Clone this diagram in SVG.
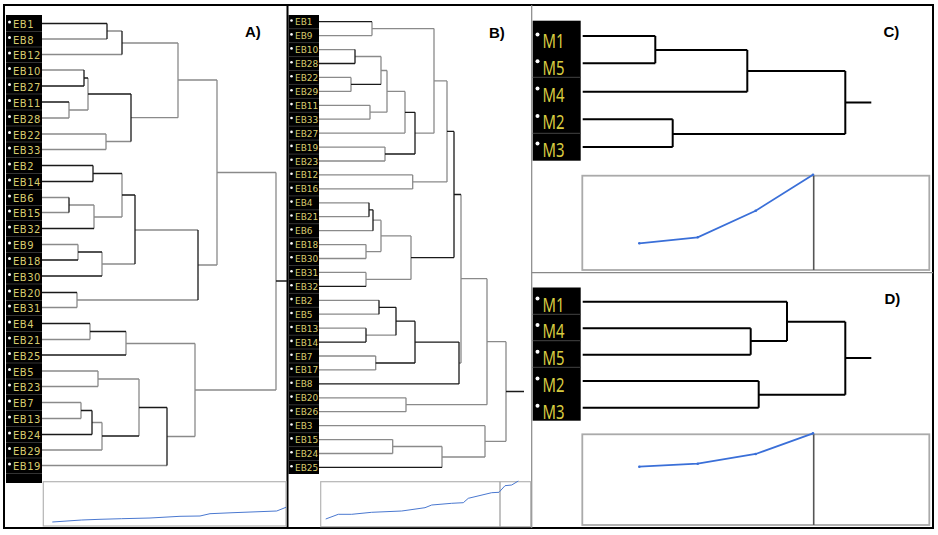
<svg xmlns="http://www.w3.org/2000/svg" width="938" height="535" viewBox="0 0 938 535">
<style>
.k{fill:none;stroke:#1a1a1a;stroke-width:1.3}
.g{fill:none;stroke:#8a8a8a;stroke-width:1.3}
.m{fill:none;stroke:#000;stroke-width:2}
.strip{fill:#000}
.sep{fill:none;stroke:#333;stroke-width:1}
.la{font-family:"DejaVu Sans",sans-serif;font-size:10px;letter-spacing:0.5px;fill:#d6ca6e}
.lb{font-family:"DejaVu Sans",sans-serif;font-size:9px;fill:#d6ca6e}
.lm{font-family:"Noto Sans",sans-serif;font-size:20px;fill:#d8cc40}
.dot{fill:#fff}
.ttl{font-family:"Liberation Sans",Arial,sans-serif;font-size:15px;font-weight:bold;fill:#000}
.box{fill:#fff;stroke:#b4b4b4;stroke-width:1.2}
.box2{fill:#fff;stroke:#aaa;stroke-width:1.8}
.curve{fill:none;stroke:#4a78d0;stroke-width:1}
.curve2{fill:none;stroke:#3a6fd8;stroke-width:1.8}
</style>
<rect x="0" y="0" width="938" height="535" fill="#fff"/>
<!-- frame -->
<g id="frame">
<rect x="4" y="5" width="929" height="523" fill="none" stroke="#000" stroke-width="2"/>
<line x1="287.5" y1="5" x2="287.5" y2="528" stroke="#000" stroke-width="2"/>
<line x1="531.7" y1="5" x2="531.7" y2="528" stroke="#888" stroke-width="1.2"/>
<line x1="531.7" y1="272.7" x2="933" y2="272.7" stroke="#888" stroke-width="1.2"/>
</g>
<!-- Panel A -->
<g id="panelA">
<rect class="strip" x="6" y="15" width="36" height="468"/>
<path class="sep" d="M6 31.5H42M6 47H42M6 62.5H42M6 78H42M6 94H42M6 110H42M6 126H42M6 142H42M6 157.5H42M6 173.5H42M6 189.5H42M6 205.5H42M6 220.5H42M6 236.5H42M6 252.5H42M6 268H42M6 284H42M6 300.5H42M6 315.5H42M6 331.5H42M6 347.5H42M6 363H42M6 379H42M6 394.5H42M6 410.5H42M6 426.5H42M6 442.5H42M6 458H42M6 473.5H42"/>
<g id="a-EB1"><circle class="dot" cx="9.5" cy="22" r="1.5"/><text class="la" x="13" y="28">EB1</text></g>
<g id="a-EB8"><circle class="dot" cx="9.5" cy="37.5" r="1.5"/><text class="la" x="13" y="43.5">EB8</text></g>
<g id="a-EB12"><circle class="dot" cx="9.5" cy="53" r="1.5"/><text class="la" x="13" y="59">EB12</text></g>
<g id="a-EB10"><circle class="dot" cx="9.5" cy="68.5" r="1.5"/><text class="la" x="13" y="74.5">EB10</text></g>
<g id="a-EB27"><circle class="dot" cx="9.5" cy="84.5" r="1.5"/><text class="la" x="13" y="90.5">EB27</text></g>
<g id="a-EB11"><circle class="dot" cx="9.5" cy="100.5" r="1.5"/><text class="la" x="13" y="106.5">EB11</text></g>
<g id="a-EB28"><circle class="dot" cx="9.5" cy="116.5" r="1.5"/><text class="la" x="13" y="122.5">EB28</text></g>
<g id="a-EB22"><circle class="dot" cx="9.5" cy="132.5" r="1.5"/><text class="la" x="13" y="138.5">EB22</text></g>
<g id="a-EB33"><circle class="dot" cx="9.5" cy="148" r="1.5"/><text class="la" x="13" y="154">EB33</text></g>
<g id="a-EB2"><circle class="dot" cx="9.5" cy="164" r="1.5"/><text class="la" x="13" y="170">EB2</text></g>
<g id="a-EB14"><circle class="dot" cx="9.5" cy="180" r="1.5"/><text class="la" x="13" y="186">EB14</text></g>
<g id="a-EB6"><circle class="dot" cx="9.5" cy="196" r="1.5"/><text class="la" x="13" y="202">EB6</text></g>
<g id="a-EB15"><circle class="dot" cx="9.5" cy="211" r="1.5"/><text class="la" x="13" y="217">EB15</text></g>
<g id="a-EB32"><circle class="dot" cx="9.5" cy="227" r="1.5"/><text class="la" x="13" y="233">EB32</text></g>
<g id="a-EB9"><circle class="dot" cx="9.5" cy="243" r="1.5"/><text class="la" x="13" y="249">EB9</text></g>
<g id="a-EB18"><circle class="dot" cx="9.5" cy="258.5" r="1.5"/><text class="la" x="13" y="264.5">EB18</text></g>
<g id="a-EB30"><circle class="dot" cx="9.5" cy="274.5" r="1.5"/><text class="la" x="13" y="280.5">EB30</text></g>
<g id="a-EB20"><circle class="dot" cx="9.5" cy="291" r="1.5"/><text class="la" x="13" y="297">EB20</text></g>
<g id="a-EB31"><circle class="dot" cx="9.5" cy="306" r="1.5"/><text class="la" x="13" y="312">EB31</text></g>
<g id="a-EB4"><circle class="dot" cx="9.5" cy="322" r="1.5"/><text class="la" x="13" y="328">EB4</text></g>
<g id="a-EB21"><circle class="dot" cx="9.5" cy="338" r="1.5"/><text class="la" x="13" y="344">EB21</text></g>
<g id="a-EB25"><circle class="dot" cx="9.5" cy="353.5" r="1.5"/><text class="la" x="13" y="359.5">EB25</text></g>
<g id="a-EB5"><circle class="dot" cx="9.5" cy="369.5" r="1.5"/><text class="la" x="13" y="375.5">EB5</text></g>
<g id="a-EB23"><circle class="dot" cx="9.5" cy="385" r="1.5"/><text class="la" x="13" y="391">EB23</text></g>
<g id="a-EB7"><circle class="dot" cx="9.5" cy="401" r="1.5"/><text class="la" x="13" y="407">EB7</text></g>
<g id="a-EB13"><circle class="dot" cx="9.5" cy="417" r="1.5"/><text class="la" x="13" y="423">EB13</text></g>
<g id="a-EB24"><circle class="dot" cx="9.5" cy="433" r="1.5"/><text class="la" x="13" y="439">EB24</text></g>
<g id="a-EB29"><circle class="dot" cx="9.5" cy="448.5" r="1.5"/><text class="la" x="13" y="454.5">EB29</text></g>
<g id="a-EB19"><circle class="dot" cx="9.5" cy="464" r="1.5"/><text class="la" x="13" y="470">EB19</text></g>
<text class="ttl" x="245" y="37">A)</text>
<g id="a-chart">
<rect class="box" x="43.3" y="481.7" width="242.7" height="44.3"/>
<polyline class="curve" points="52.3,522 81.7,520 100,519.3 121.7,518.7 150,518 180,516.3 200,516 210,513.7 233,512.7 276.7,511 286,507.3"/>
</g>
</g>
<g id="connectors-A">
<path class="g" d="M42 39H107M107 31H122M42 54.5H122M122 43H178M42 70H84M69 102V118M42 118H69M69 110H88M88 78V110M42 134H106M42 149.5H106M106 134V149.5M106 141.5H131M131 117.7H178M178 43V117.7M178 80H217M42 197.5H69M42 212.5H69M69 205H94M94 205V228.5M94 217H122M122 173.5V217M42 244.5H78M78 244.5V260M102 252V276M102 264H135M135 230H198M42 307.5H77M77 292.5V307.5M77 300H198M198 265H217M217 80V265M217 172.5H276M42 339.5H90M90 323.5V339.5M126 331.5V355M126 343.5H195M42 371H98M42 386.5H98M98 371V386.5M98 379H139M42 402.5H81M42 418.5H81M81 402.5V418.5M92 422.5H102M42 450H102M102 422.5V450M139 379V436M42 465.5H167M167 436.5H195M195 343.5V436.5M195 390H276M276 172.5V390"/>
<path class="k" d="M42 23.5H107M107 23.5V39M122 31V54.5M42 86H84M84 70V86M84 78H88M42 102H69M88 94H131M131 94V141.5M42 165.5H93M42 181.5H93M93 165.5V181.5M93 173.5H122M69 197.5V212.5M42 228.5H94M122 195H135M42 260H78M78 252H102M42 276H102M135 195V264M42 292.5H77M198 230V300M42 323.5H90M90 331.5H126M42 355H126M81 410.5H92M42 434.5H92M92 410.5V434.5M102 436H139M139 407.5H167M167 407.5V465.5M276 281H287"/>
</g>
<!-- Panel B -->
<g id="panelB">
<rect class="strip" x="288.5" y="15" width="30.5" height="459"/>
<path class="sep" d="M288.5 28.7H319M288.5 42.6H319M288.5 56.6H319M288.5 70.5H319M288.5 84.4H319M288.5 98.4H319M288.5 112.3H319M288.5 126.2H319M288.5 140.1H319M288.5 154.1H319M288.5 168H319M288.5 181.9H319M288.5 195.9H319M288.5 209.8H319M288.5 223.7H319M288.5 237.7H319M288.5 251.6H319M288.5 265.5H319M288.5 279.4H319M288.5 293.4H319M288.5 307.3H319M288.5 321.2H319M288.5 335.2H319M288.5 349H319M288.5 363H319M288.5 376.9H319M288.5 390.9H319M288.5 404.8H319M288.5 418.7H319M288.5 432.7H319M288.5 446.6H319M288.5 460.5H319"/>
<g id="b-EB1"><circle class="dot" cx="291.5" cy="20.5" r="1.3"/><text class="lb" x="295" y="25.2">EB1</text></g>
<g id="b-EB9"><circle class="dot" cx="291.5" cy="34.4" r="1.3"/><text class="lb" x="295" y="39.1">EB9</text></g>
<g id="b-EB10"><circle class="dot" cx="291.5" cy="48.4" r="1.3"/><text class="lb" x="295" y="53.1">EB10</text></g>
<g id="b-EB28"><circle class="dot" cx="291.5" cy="62.3" r="1.3"/><text class="lb" x="295" y="67">EB28</text></g>
<g id="b-EB22"><circle class="dot" cx="291.5" cy="76.2" r="1.3"/><text class="lb" x="295" y="80.9">EB22</text></g>
<g id="b-EB29"><circle class="dot" cx="291.5" cy="90.2" r="1.3"/><text class="lb" x="295" y="94.9">EB29</text></g>
<g id="b-EB11"><circle class="dot" cx="291.5" cy="104.1" r="1.3"/><text class="lb" x="295" y="108.8">EB11</text></g>
<g id="b-EB33"><circle class="dot" cx="291.5" cy="118" r="1.3"/><text class="lb" x="295" y="122.7">EB33</text></g>
<g id="b-EB27"><circle class="dot" cx="291.5" cy="131.9" r="1.3"/><text class="lb" x="295" y="136.6">EB27</text></g>
<g id="b-EB19"><circle class="dot" cx="291.5" cy="145.9" r="1.3"/><text class="lb" x="295" y="150.6">EB19</text></g>
<g id="b-EB23"><circle class="dot" cx="291.5" cy="159.8" r="1.3"/><text class="lb" x="295" y="164.5">EB23</text></g>
<g id="b-EB12"><circle class="dot" cx="291.5" cy="173.7" r="1.3"/><text class="lb" x="295" y="178.4">EB12</text></g>
<g id="b-EB16"><circle class="dot" cx="291.5" cy="187.7" r="1.3"/><text class="lb" x="295" y="192.4">EB16</text></g>
<g id="b-EB4"><circle class="dot" cx="291.5" cy="201.6" r="1.3"/><text class="lb" x="295" y="206.3">EB4</text></g>
<g id="b-EB21"><circle class="dot" cx="291.5" cy="215.5" r="1.3"/><text class="lb" x="295" y="220.2">EB21</text></g>
<g id="b-EB6"><circle class="dot" cx="291.5" cy="229.5" r="1.3"/><text class="lb" x="295" y="234.2">EB6</text></g>
<g id="b-EB18"><circle class="dot" cx="291.5" cy="243.4" r="1.3"/><text class="lb" x="295" y="248.1">EB18</text></g>
<g id="b-EB30"><circle class="dot" cx="291.5" cy="257.3" r="1.3"/><text class="lb" x="295" y="262">EB30</text></g>
<g id="b-EB31"><circle class="dot" cx="291.5" cy="271.2" r="1.3"/><text class="lb" x="295" y="275.9">EB31</text></g>
<g id="b-EB32"><circle class="dot" cx="291.5" cy="285.2" r="1.3"/><text class="lb" x="295" y="289.9">EB32</text></g>
<g id="b-EB2"><circle class="dot" cx="291.5" cy="299.1" r="1.3"/><text class="lb" x="295" y="303.8">EB2</text></g>
<g id="b-EB5"><circle class="dot" cx="291.5" cy="313" r="1.3"/><text class="lb" x="295" y="317.7">EB5</text></g>
<g id="b-EB13"><circle class="dot" cx="291.5" cy="327" r="1.3"/><text class="lb" x="295" y="331.7">EB13</text></g>
<g id="b-EB14"><circle class="dot" cx="291.5" cy="340.9" r="1.3"/><text class="lb" x="295" y="345.6">EB14</text></g>
<g id="b-EB7"><circle class="dot" cx="291.5" cy="354.8" r="1.3"/><text class="lb" x="295" y="359.5">EB7</text></g>
<g id="b-EB17"><circle class="dot" cx="291.5" cy="368.7" r="1.3"/><text class="lb" x="295" y="373.4">EB17</text></g>
<g id="b-EB8"><circle class="dot" cx="291.5" cy="382.7" r="1.3"/><text class="lb" x="295" y="387.4">EB8</text></g>
<g id="b-EB20"><circle class="dot" cx="291.5" cy="396.6" r="1.3"/><text class="lb" x="295" y="401.3">EB20</text></g>
<g id="b-EB26"><circle class="dot" cx="291.5" cy="410.5" r="1.3"/><text class="lb" x="295" y="415.2">EB26</text></g>
<g id="b-EB3"><circle class="dot" cx="291.5" cy="424.5" r="1.3"/><text class="lb" x="295" y="429.2">EB3</text></g>
<g id="b-EB15"><circle class="dot" cx="291.5" cy="438.4" r="1.3"/><text class="lb" x="295" y="443.1">EB15</text></g>
<g id="b-EB24"><circle class="dot" cx="291.5" cy="452.3" r="1.3"/><text class="lb" x="295" y="457">EB24</text></g>
<g id="b-EB25"><circle class="dot" cx="291.5" cy="466.2" r="1.3"/><text class="lb" x="295" y="470.9">EB25</text></g>
<text class="ttl" x="489" y="37.5">B)</text>
<g id="b-chart">
<rect class="box" x="320.7" y="481.7" width="210" height="45"/>
<line x1="500" y1="481.7" x2="500" y2="526.7" stroke="#999" stroke-width="1.2"/>
<polyline class="curve" points="325.7,519 338.3,514.3 351.7,514.3 371.7,512.3 401.7,511 425,507.7 431.7,505 451.7,503.3 463.3,502.7 468.3,498.3 491.7,492.7 499,492.3 505,485.7 511.7,485 518.3,481"/>
</g>
</g>
<g id="connectors-B">
<path class="g" d="M319 35.6H372M372 21.7V35.6M372 28.6H434M319 49.6H355M355 56.5H381M319 77.4H351M319 91.4H351M351 77.4V91.4M381 56.5V84.4M381 70.5H387M319 105.3H370M319 119.2H370M370 105.3V119.2M370 112.2H387M387 70.5V112.2M387 91.4H405M319 133.1H405M405 91.4V133.1M319 147.1H385M319 161H385M385 147.1V161M415 133.2H434M434 28.6V133.2M434 80.9H447M319 174.9H412.7M319 188.9H412.7M412.7 174.9V188.9M412.7 181.9H447M447 80.9V181.9M319 202.8H369M319 216.7H369M319 230.7H373M373 220.2H381M319 244.6H366M319 258.5H366M366 244.6V258.5M366 251.6H381M381 220.2V251.6M381 235.9H411M319 272.4H366M366 272.4V286.4M366 279.4H411M411 235.9V279.4M319 300.3H379M319 314.2H379M319 328.2H366M366 335.2H396M319 356H375.7M319 369.9H375.7M375.7 356V369.9M459 363H461M461 194.5V363M461 278.7H487M319 397.8H406M319 411.7H406M406 397.8V411.7M406 404.7H487M487 278.7V404.7M487 341.7H506M319 425.7H485M319 439.6H392.7M319 453.5H392.7M392.7 439.6V453.5M392.7 446.5H442M442 446.5V467.4M442 457H485M485 425.7V457M485 441.3H506M506 341.7V441.3"/>
<path class="k" d="M319 21.7H372M319 63.5H355M355 49.6V63.5M351 84.4H381M405 112.3H415M385 154H415M415 112.3V154M447 131.4H454M369 202.8V216.7M369 209.8H373M373 209.8V230.7M319 286.4H366M411 257.6H454M454 131.4V257.6M454 194.5H461M379 300.3V314.2M379 307.3H396M319 342.1H366M366 328.2V342.1M396 307.3V335.2M396 321.2H415M375.7 363H415M415 321.2V363M415 342.1H459M319 383.9H459M459 342.1V383.9M319 467.4H442M506 391.5H524"/>
</g>
<!-- Panel C -->
<g id="panelC">
<rect class="strip" x="532.7" y="20.7" width="48" height="140"/>
<path d="M532.7 77.3H580.7M532.7 133.3H580.7" fill="none" stroke="#444" stroke-width="1"/>
<g id="c-M1"><circle class="dot" cx="537.5" cy="34.5" r="2"/><text class="lm" x="542.5" y="47.7" textLength="22" lengthAdjust="spacingAndGlyphs">M1</text></g>
<g id="c-M5"><circle class="dot" cx="537.5" cy="61.3" r="2"/><text class="lm" x="542.5" y="74.5" textLength="22" lengthAdjust="spacingAndGlyphs">M5</text></g>
<g id="c-M4"><circle class="dot" cx="537.5" cy="88.5" r="2"/><text class="lm" x="542.5" y="101.7" textLength="22" lengthAdjust="spacingAndGlyphs">M4</text></g>
<g id="c-M2"><circle class="dot" cx="537.5" cy="116.1" r="2"/><text class="lm" x="542.5" y="129.3" textLength="22" lengthAdjust="spacingAndGlyphs">M2</text></g>
<g id="c-M3"><circle class="dot" cx="537.5" cy="143.5" r="2"/><text class="lm" x="542.5" y="156.7" textLength="22" lengthAdjust="spacingAndGlyphs">M3</text></g>
<text class="ttl" x="883.5" y="37">C)</text>
<g id="c-chart">
<rect class="box2" x="582.3" y="175.7" width="347" height="94.3"/>
<line x1="813.7" y1="175.7" x2="813.7" y2="270" stroke="#555" stroke-width="1.6"/>
<polyline class="curve2" points="639.3,243.3 697.7,237.3 755.7,210.7 813,174.7"/>
<g fill="#3a6fd8"><circle cx="639.3" cy="243.3" r="1.3"/><circle cx="697.7" cy="237.3" r="1.3"/><circle cx="755.7" cy="210.7" r="1.3"/><circle cx="813" cy="174.7" r="1.3"/></g>
</g>
</g>
<g id="connectors-C">
<path class="m" d="M582.7 36H655.3M582.7 63.3H655.3M655.3 36V63.3M655.3 50H747.3M582.7 91.7H747.3M747.3 50V91.7M747.3 71H845.3M582.7 119.3H672.7M582.7 147H672.7M672.7 119.3V147M672.7 134H845.3M845.3 71V134M845.3 102.5H871.3"/>
</g>
<!-- Panel D -->
<g id="panelD">
<rect class="strip" x="532.7" y="287.5" width="48" height="133.2"/>
<path d="M532.7 314.3H580.7M532.7 340.7H580.7M532.7 367.3H580.7" fill="none" stroke="#444" stroke-width="1"/>
<g id="d-M1"><circle class="dot" cx="537.5" cy="298.5" r="2"/><text class="lm" x="542.5" y="311.7" textLength="22" lengthAdjust="spacingAndGlyphs">M1</text></g>
<g id="d-M4"><circle class="dot" cx="537.5" cy="325.1" r="2"/><text class="lm" x="542.5" y="338.3" textLength="22" lengthAdjust="spacingAndGlyphs">M4</text></g>
<g id="d-M5"><circle class="dot" cx="537.5" cy="351.8" r="2"/><text class="lm" x="542.5" y="365" textLength="22" lengthAdjust="spacingAndGlyphs">M5</text></g>
<g id="d-M2"><circle class="dot" cx="537.5" cy="378.5" r="2"/><text class="lm" x="542.5" y="391.7" textLength="22" lengthAdjust="spacingAndGlyphs">M2</text></g>
<g id="d-M3"><circle class="dot" cx="537.5" cy="405.8" r="2"/><text class="lm" x="542.5" y="419" textLength="22" lengthAdjust="spacingAndGlyphs">M3</text></g>
<text class="ttl" x="884.5" y="303.5">D)</text>
<g id="d-chart">
<rect class="box2" x="582.3" y="434.3" width="347" height="90.7"/>
<line x1="813.7" y1="434.3" x2="813.7" y2="525" stroke="#555" stroke-width="1.6"/>
<polyline class="curve2" points="639.3,466.7 697.7,463.7 755.7,454 813,433.3"/>
<g fill="#3a6fd8"><circle cx="639.3" cy="466.7" r="1.3"/><circle cx="697.7" cy="463.7" r="1.3"/><circle cx="755.7" cy="454" r="1.3"/><circle cx="813" cy="433.3" r="1.3"/></g>
</g>
</g>
<g id="connectors-D">
<path class="m" d="M582.7 301.7H787M582.7 328.3H750.7M582.7 354.7H750.7M750.7 328.3V354.7M750.7 341H787M787 301.7V341M787 321.7H845.3M582.7 381H758.7M582.7 407.7H758.7M758.7 381V407.7M758.7 394.7H845.3M845.3 321.7V394.7M845.3 358H871.3"/>
</g>
</svg>
